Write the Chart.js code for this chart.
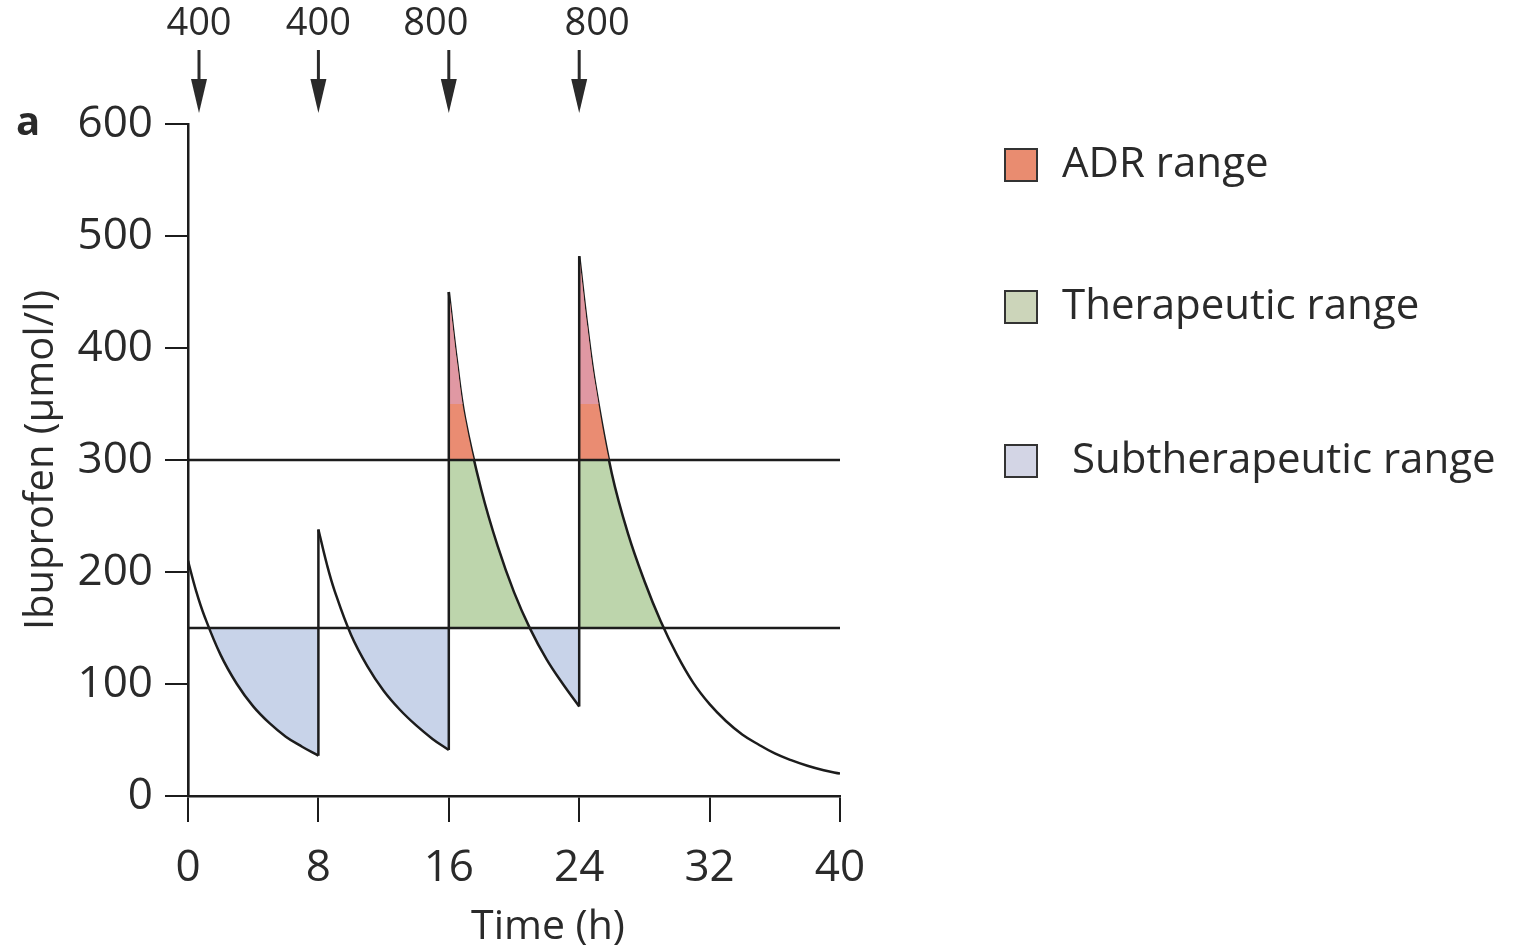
<!DOCTYPE html>
<html>
<head>
<meta charset="utf-8">
<title>Ibuprofen – rangos terapéuticos</title>
<script src="https://cdn.jsdelivr.net/npm/chart.js@4.4.1/dist/chart.umd.min.js"></script>
<style>
  html, body { margin: 0; padding: 0; background: #fff; }
  #wrap { position: relative; width: 1515px; height: 950px; }
</style>
</head>
<body>
<div id="wrap"><canvas id="chart" width="1515" height="950"></canvas></div>
<script>
// ─── Datos ────────────────────────────────────────────────────────────────────

const doseTimes   = [0, 8, 16, 24];
const doseAmounts = [400, 400, 800, 800];

// concentración (µmol/l), un intervalo por dosis
const seg1Time = [0, 0.5, 1, 2, 3, 4, 5, 6, 7, 8];
const seg1Conc = [210, 183, 161, 126, 100, 80, 65, 53, 44, 36];

const seg2Time = [8, 8.5, 9, 10, 11, 12, 13, 14, 15, 16];
const seg2Conc = [238, 208, 183, 144, 116, 94, 77, 63, 51, 41];

const seg3Time = [16, 16.5, 17, 18, 19, 20, 21, 22, 23, 24];
const seg3Conc = [450, 388, 337, 273, 223, 182, 149, 122, 100, 80];

const seg4Time = [24, 24.5, 25, 26, 27, 28, 29, 30, 31, 32, 33, 34, 35, 36, 37, 38, 39, 40];
const seg4Conc = [482, 419, 366, 288, 234, 192, 156, 126, 101, 82, 67, 55, 46, 38, 32, 27, 23, 20];

const lowLimit  = 150;  // límite inferior terapéutico
const highLimit = 300;  // límite de ADR
const adrShade  = 350;  // cambio de tono dentro del rango ADR

const xTicks = [0, 8, 16, 24, 32, 40];
const yTicks = [0, 100, 200, 300, 400, 500, 600];

const legendLabels = ['ADR range', 'Therapeutic range', 'Subtherapeutic range'];

// ─── Estilo ───────────────────────────────────────────────────────────────────

const FONT   = "'Open Sans', 'Liberation Sans', sans-serif";
const INK    = '#2a2a2a';
const BLUE   = 'rgb(200,211,233)';
const GREEN  = 'rgb(189,213,172)';
const SALMON = 'rgb(234,140,114)';
const PINK   = 'rgb(224,152,163)';
const NONE   = 'rgba(0,0,0,0)';

const legendFills = ['rgb(233,140,112)', 'rgb(204,213,186)', 'rgb(211,213,229)'];
const doseLabelShift = [0, 0, -13, 18];

// ─── Helpers ─────────────────────────────────────────────────────────────────

function pts(ts, cs) {
  return ts.map((t, i) => ({ x: t, y: cs[i] }));
}

// subidas verticales en cada toma
function jumpPoints() {
  const segs = [[seg1Time, seg1Conc], [seg2Time, seg2Conc], [seg3Time, seg3Conc], [seg4Time, seg4Conc]];
  const out = [];
  segs.forEach(([ts, cs], i) => {
    const prev = i === 0 ? 0 : segs[i - 1][1][segs[i - 1][1].length - 1];
    out.push({ x: ts[0], y: prev }, { x: ts[0], y: cs[0] }, { x: ts[0], y: null });
  });
  return out;
}

function curve(data, fill, border) {
  return {
    data,
    fill,
    borderColor: border ? '#1c1c1c' : NONE,
    borderWidth: border ? 2.5 : 0,
    pointRadius: 0,
    tension: 0.4,
  };
}

function hline(v) {
  return {
    data: [{ x: 0, y: v }, { x: 40, y: v }],
    fill: false,
    borderColor: '#1c1c1c',
    borderWidth: 2.5,
    pointRadius: 0,
  };
}

// ─── Plugin: flechas de dosis, leyenda y rótulos ─────────────────────────────

const decorations = {
  id: 'decorations',
  afterDraw(chart) {
    const { ctx, chartArea, scales } = chart;
    ctx.save();
    ctx.fillStyle = INK;
    ctx.strokeStyle = INK;

    // dosis
    doseTimes.forEach((t, i) => {
      const x = Math.max(scales.x.getPixelForValue(t), chartArea.left + 11);
      ctx.font = `38px ${FONT}`;
      ctx.textAlign = 'center';
      ctx.textBaseline = 'middle';
      ctx.fillText(String(doseAmounts[i]), x + doseLabelShift[i], 24);
      ctx.lineWidth = 3;
      ctx.beginPath();
      ctx.moveTo(x, 50);
      ctx.lineTo(x, 84);
      ctx.stroke();
      ctx.beginPath();
      ctx.moveTo(x - 8, 79);
      ctx.lineTo(x + 8, 79);
      ctx.lineTo(x, 113);
      ctx.closePath();
      ctx.fill();
    });

    // etiqueta del panel
    ctx.font = `bold 40px ${FONT}`;
    ctx.textAlign = 'center';
    ctx.textBaseline = 'middle';
    ctx.fillText('a', 28, 124);

    // título eje x
    ctx.font = `41px ${FONT}`;
    ctx.fillText('Time (h)', (chartArea.left + chartArea.right) / 2 + 34, 927);

    // leyenda
    const rows = [165, 307, 461];
    const textX = [1062, 1062, 1072];
    legendLabels.forEach((label, i) => {
      const y = rows[i];
      ctx.fillStyle = legendFills[i];
      ctx.fillRect(1005, y - 16, 32, 32);
      ctx.lineWidth = 2;
      ctx.strokeStyle = '#333';
      ctx.strokeRect(1005, y - 16, 32, 32);
      ctx.fillStyle = INK;
      ctx.font = `42px ${FONT}`;
      ctx.textAlign = 'left';
      ctx.textBaseline = 'middle';
      ctx.fillText(label, textX[i], y);
    });
    ctx.restore();
  }
};

// ─── Gráfica ─────────────────────────────────────────────────────────────────

const s1 = pts(seg1Time, seg1Conc);
const s2 = pts(seg2Time, seg2Conc);
const s3 = pts(seg3Time, seg3Conc);
const s4 = pts(seg4Time, seg4Conc);

const datasets = [
  hline(lowLimit),
  hline(highLimit),
  { data: jumpPoints(), fill: false, borderColor: '#1c1c1c', borderWidth: 2.5, pointRadius: 0, spanGaps: false },
  curve(s3, { target: { value: adrShade }, above: PINK, below: NONE }, false),
  curve(s4, { target: { value: adrShade }, above: PINK, below: NONE }, false),
  curve(s3, { target: { value: highLimit }, above: SALMON, below: NONE }, false),
  curve(s4, { target: { value: highLimit }, above: SALMON, below: NONE }, false),
  curve(s1, { target: { value: lowLimit }, above: NONE, below: BLUE }, true),
  curve(s2, { target: { value: lowLimit }, above: NONE, below: BLUE }, true),
  curve(s3, { target: { value: lowLimit }, above: GREEN, below: BLUE }, true),
  curve(s4, { target: { value: lowLimit }, above: GREEN, below: NONE }, true),
];

const ctx = document.getElementById('chart').getContext('2d');

new Chart(ctx, {
  type: 'line',
  data: { datasets },
  plugins: [decorations],
  options: {
    responsive: false,
    animation: false,
    layout: { padding: { left: 0, top: 124, right: 675, bottom: 0 } },
    plugins: {
      legend: { display: false },
      tooltip: { enabled: false },
    },
    scales: {
      x: {
        type: 'linear',
        min: 0,
        max: 40,
        afterBuildTicks: s => { s.ticks = xTicks.map(v => ({ value: v })); },
        afterFit: s => { s.height = 154; },
        border: { display: true, color: '#1c1c1c', width: 2.5 },
        grid: { display: true, drawOnChartArea: false, drawTicks: true, tickLength: 26, color: '#1c1c1c', lineWidth: 2 },
        ticks: { color: INK, font: { size: 44, family: FONT }, padding: 20, maxRotation: 0 },
      },
      y: {
        min: 0,
        max: 600,
        afterBuildTicks: s => { s.ticks = yTicks.map(v => ({ value: v })); },
        afterFit: s => { s.width = 188; },
        border: { display: true, color: '#1c1c1c', width: 2.5 },
        grid: { display: true, drawOnChartArea: false, drawTicks: true, tickLength: 23, color: '#1c1c1c', lineWidth: 2 },
        ticks: { color: INK, font: { size: 44, family: FONT }, padding: 12 },
        title: {
          display: true,
          text: 'Ibuprofen (μmol/l)',
          color: INK,
          font: { size: 40, family: FONT },
          padding: { top: 18, bottom: 0 },
        },
      },
    },
  },
});
</script>
</body>
</html>
